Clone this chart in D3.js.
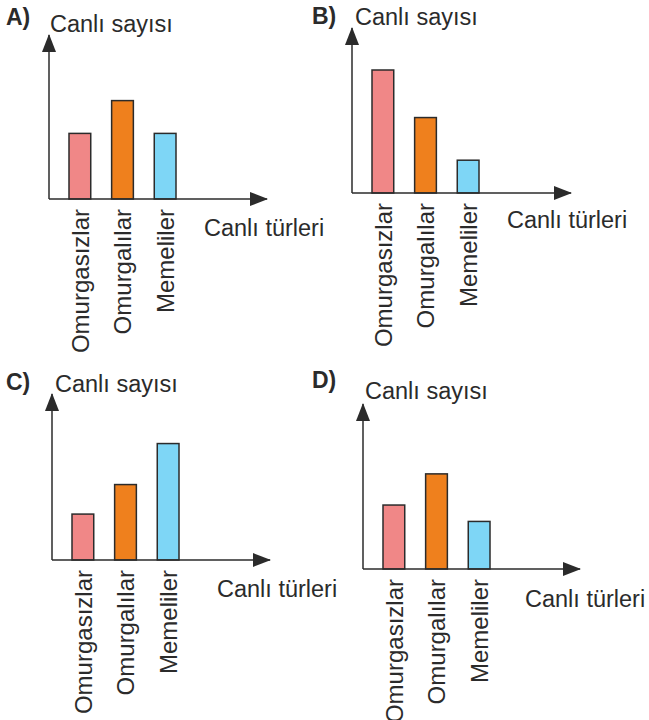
<!DOCTYPE html>
<html>
<head>
<meta charset="utf-8">
<script src="https://cdn.jsdelivr.net/npm/d3@7"></script>
<style>
  body { margin: 0; background: #fff; }
  svg { display: block; font-family: "Liberation Sans", Arial, sans-serif; }
</style>
</head>
<body>
<div id="chart"></div>
<script>
// data
const categories = ['Omurgasızlar', 'Omurgalılar', 'Memeliler'];
const optionLabels = ['A)', 'B)', 'C)', 'D)'];
const valuesA = [4.0, 6.0, 4.0];
const valuesB = [7.5, 4.6, 2.0];
const valuesC = [2.8, 4.6, 7.1];
const valuesD = [3.9, 5.8, 2.9];
const yAxisTitle = 'Canlı sayısı';
const xAxisTitle = 'Canlı türleri';

const colors = ['#f08787', '#ef801d', '#7ed6f6'];
const ink = '#2b2b2b';

// layout of each panel (origin of the axes, arrow ends, title spots)
const panels = [
  { label: optionLabels[0], values: valuesA, ox: 49, oy: 199, yTip: 35, xTip: 267,
    lab: [6, 25], yt: [50, 32], xt: [204, 236] },
  { label: optionLabels[1], values: valuesB, ox: 352, oy: 193, yTip: 28, xTip: 571,
    lab: [312, 24], yt: [355, 25], xt: [507, 228] },
  { label: optionLabels[2], values: valuesC, ox: 52, oy: 560, yTip: 394, xTip: 270,
    lab: [6, 390], yt: [55, 392], xt: [217, 597] },
  { label: optionLabels[3], values: valuesD, ox: 363, oy: 569, yTip: 404, xTip: 580,
    lab: [312, 388], yt: [365, 399], xt: [525, 607] }
];

const svg = d3.select('#chart').append('svg')
  .attr('width', 649)
  .attr('height', 720);

svg.append('defs').append('marker')
  .attr('id', 'arrow')
  .attr('viewBox', '0 0 18 14')
  .attr('refX', 17)
  .attr('refY', 7)
  .attr('markerWidth', 18)
  .attr('markerHeight', 14)
  .attr('markerUnits', 'userSpaceOnUse')
  .attr('orient', 'auto')
  .append('path')
  .attr('d', 'M0,0 L18,7 L0,14 Z')
  .attr('fill', ink);

panels.forEach(p => {
  const g = svg.append('g');

  const x = d3.scaleBand()
    .domain(categories)
    .range([p.ox + 20, p.ox + 127])
    .paddingInner(0.49)
    .paddingOuter(0);

  const y = d3.scaleLinear()
    .domain([0, 10])
    .range([p.oy, p.oy - 164]);

  // bars
  g.selectAll('rect')
    .data(p.values)
    .join('rect')
    .attr('x', (d, i) => x(categories[i]))
    .attr('y', d => y(d))
    .attr('width', x.bandwidth())
    .attr('height', d => y(0) - y(d))
    .attr('fill', (d, i) => colors[i])
    .attr('stroke', ink)
    .attr('stroke-width', 1.5);

  // axes with arrow heads
  g.append('line')
    .attr('x1', p.ox).attr('y1', p.oy)
    .attr('x2', p.ox).attr('y2', p.yTip)
    .attr('stroke', ink).attr('stroke-width', 1.5)
    .attr('marker-end', 'url(#arrow)');
  g.append('line')
    .attr('x1', p.ox).attr('y1', p.oy)
    .attr('x2', p.xTip).attr('y2', p.oy)
    .attr('stroke', ink).attr('stroke-width', 1.5)
    .attr('marker-end', 'url(#arrow)');

  // category labels, rotated
  const fs = 24;
  g.selectAll('text.cat')
    .data(categories)
    .join('text')
    .attr('class', 'cat')
    .attr('transform', d => `translate(${x(d) + x.bandwidth() / 2 + fs * 0.36},${p.oy + 10}) rotate(-90)`)
    .attr('text-anchor', 'end')
    .attr('font-size', fs)
    .attr('fill', ink)
    .text(d => d);

  g.append('text')
    .attr('x', p.lab[0]).attr('y', p.lab[1])
    .attr('font-size', 23)
    .attr('font-weight', 'bold')
    .attr('fill', ink)
    .text(p.label);

  g.append('text')
    .attr('x', p.yt[0]).attr('y', p.yt[1])
    .attr('font-size', 23.5)
    .attr('fill', ink)
    .text(yAxisTitle);

  g.append('text')
    .attr('x', p.xt[0]).attr('y', p.xt[1])
    .attr('font-size', 23.5)
    .attr('fill', ink)
    .text(xAxisTitle);
});
</script>
</body>
</html>
